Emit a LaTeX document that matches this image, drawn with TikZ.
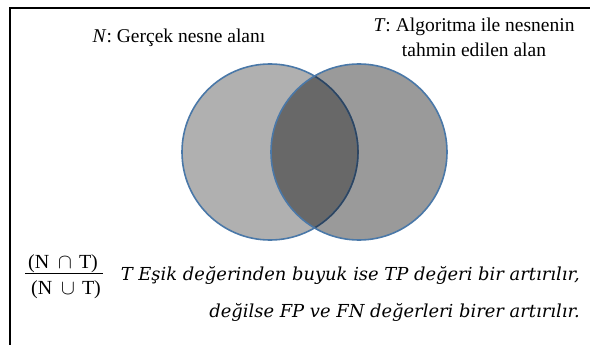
\documentclass[tikz,border=0pt]{standalone}
\usepackage{fontspec}
\setmainfont{Liberation Serif}
\newfontfamily\itfont{DejaVu Serif}
\begin{document}
\begin{tikzpicture}[x=1pt,y=-1pt,
  lbl/.style={inner sep=0pt, font=\fontsize{19.5}{25}\selectfont},
  frac/.style={inner sep=0pt, font=\fontsize{20}{22}\selectfont},
  eq/.style={inner sep=0pt, font=\itfont\itshape\fontsize{17.9}{20}\selectfont},
  ring/.style={draw=ringblue, line width=1.6pt}]
\definecolor{ringblue}{HTML}{4A78A8}
\definecolor{ringdark}{HTML}{2E4560}
\definecolor{lgray}{HTML}{B0B0B0}
\definecolor{rgray}{HTML}{9A9A9A}
\definecolor{igray}{HTML}{686868}
\useasboundingbox (0,0) rectangle (590,345);
\fill[white] (0,0) rectangle (590,345);
\draw[line width=1.4pt] (10,345) -- (10,8) -- (590,8);
% circles
\coordinate (cN) at (270,152);
\coordinate (cT) at (359,152);
\fill[lgray] (cN) circle (88);
\fill[rgray] (cT) circle (88);
\begin{scope}
  \clip (cN) circle (88);
  \fill[igray] (cT) circle (88);
\end{scope}
\draw[ring] (cN) circle (88);
\begin{scope}
  \clip (cT) circle (88);
  \draw[draw=ringdark, line width=1.6pt] (cN) circle (88);
\end{scope}
\draw[ring] (cT) circle (88);
% labels
\node[lbl, anchor=base] (lN) at (179,43) {\textit{N}: Gerçek nesne alanı};
\node[lbl, anchor=base] (lT1) at (474,32) {\textit{T}: Algoritma ile nesnenin};
\node[lbl, anchor=base] (lT2) at (474,57) {tahmin edilen alan};
% fraction
\node[frac, anchor=base] (num) at (63,268) {(N\hspace{9pt}$\cap$\hspace{7pt}T)};
\node[frac, anchor=base] (den) at (66,294) {(N\hspace{9pt}$\cup$\hspace{7pt}T)};
\draw[line width=0.9pt] (25,273) -- (103,273);
\node[eq, anchor=base east] (e1) at (580,280) {T Eşik değerinden buyuk ise TP değeri bir artırılır,};
\node[eq, anchor=base east] (e2) at (580,317) {değilse FP ve FN değerleri birer artırılır.};
\end{tikzpicture}
\end{document}
